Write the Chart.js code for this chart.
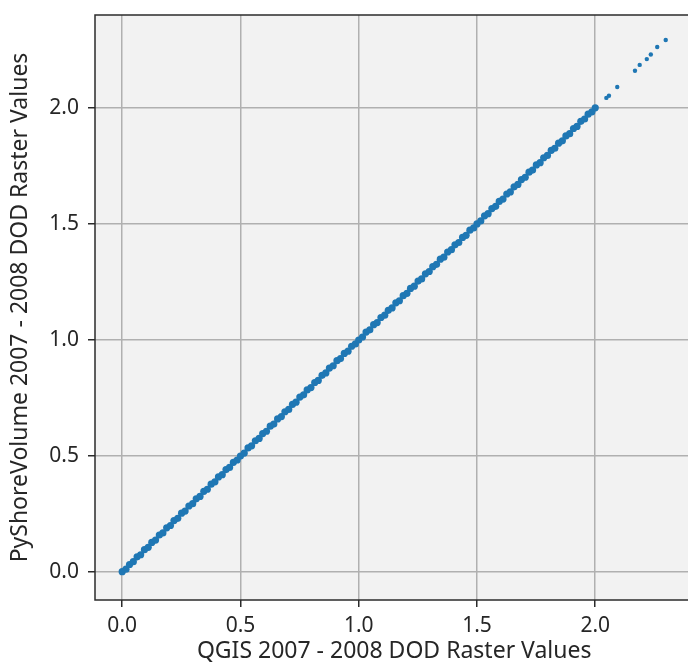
<!DOCTYPE html>
<html>
<head>
<meta charset="utf-8">
<script src="https://cdn.jsdelivr.net/npm/chart.js@4/dist/chart.umd.min.js"></script>
<style>
  html, body { margin: 0; padding: 0; background: #ffffff; overflow: hidden; }
  #wrap { position: relative; width: 697px; height: 667px; }
</style>
</head>
<body>
<div id="wrap"><canvas id="c"></canvas></div>
<script>
const xAxisTitle = 'QGIS 2007 - 2008 DOD Raster Values';
const yAxisTitle = 'PyShoreVolume 2007 - 2008 DOD Raster Values';
const xTickValues = [0.0, 0.5, 1.0, 1.5, 2.0];
const yTickValues = [0.0, 0.5, 1.0, 1.5, 2.0];

// dense part of the cloud (0 .. 2.0)
const qgisValues = [
  0.000,0.016,0.031,0.047,0.063,0.078,0.094,0.110,0.125,0.141,
  0.157,0.172,0.188,0.204,0.219,0.235,0.251,0.266,0.282,0.298,
  0.313,0.329,0.345,0.360,0.376,0.392,0.407,0.423,0.439,0.454,
  0.470,0.486,0.500,0.516,0.532,0.547,0.563,0.579,0.594,0.610,
  0.626,0.641,0.657,0.673,0.688,0.704,0.720,0.735,0.751,0.767,
  0.782,0.798,0.814,0.829,0.845,0.861,0.876,0.892,0.908,0.923,
  0.939,0.955,0.970,0.986,1.000,1.016,1.031,1.047,1.063,1.078,
  1.094,1.110,1.125,1.141,1.157,1.172,1.188,1.204,1.219,1.235,
  1.251,1.266,1.282,1.298,1.313,1.329,1.345,1.360,1.376,1.392,
  1.407,1.423,1.439,1.454,1.470,1.486,1.500,1.516,1.532,1.547,
  1.563,1.579,1.594,1.610,1.626,1.641,1.657,1.673,1.688,1.704,
  1.720,1.735,1.751,1.767,1.782,1.798,1.814,1.829,1.845,1.861,
  1.876,1.892,1.908,1.923,1.939,1.955,1.970,1.986,2.000
];
const pyshoreValues = [
  0.002,0.013,0.033,0.045,0.066,0.075,0.097,0.107,0.128,0.138,
  0.160,0.169,0.191,0.201,0.222,0.232,0.254,0.263,0.285,0.295,
  0.316,0.326,0.348,0.357,0.379,0.389,0.410,0.420,0.442,0.451,
  0.473,0.483,0.500,0.513,0.535,0.544,0.566,0.576,0.597,0.607,
  0.629,0.638,0.660,0.670,0.691,0.701,0.723,0.732,0.754,0.764,
  0.785,0.795,0.817,0.826,0.848,0.858,0.879,0.889,0.911,0.920,
  0.942,0.952,0.973,0.983,1.000,1.013,1.034,1.044,1.066,1.075,
  1.097,1.107,1.128,1.138,1.160,1.169,1.191,1.201,1.222,1.232,
  1.254,1.263,1.285,1.295,1.316,1.326,1.348,1.357,1.379,1.389,
  1.410,1.420,1.442,1.451,1.473,1.483,1.500,1.513,1.535,1.544,
  1.566,1.576,1.597,1.607,1.629,1.638,1.660,1.670,1.691,1.701,
  1.723,1.732,1.754,1.764,1.785,1.795,1.817,1.826,1.848,1.858,
  1.879,1.889,1.911,1.920,1.942,1.952,1.973,1.983,2.000
];
// sparse tail above 2.0
const qgisTail =    [2.047, 2.058, 2.093, 2.168, 2.188, 2.218, 2.235, 2.262, 2.298];
const pyshoreTail = [2.043, 2.052, 2.090, 2.160, 2.185, 2.210, 2.230, 2.262, 2.292];

function toPoints(xs, ys) {
  const n = Math.min(xs.length, ys.length), out = [];
  for (let i = 0; i < n; i++) out.push({x: xs[i], y: ys[i]});
  return out;
}

const FONT = "'Noto Sans', 'Open Sans', sans-serif";
const TEXT = '#262626';
const BLUE = '#1f77b4';

const frame = {
  id: 'frame',
  beforeDraw(chart) {
    const {ctx, chartArea: a} = chart;
    ctx.save();
    ctx.fillStyle = '#f2f2f2';
    ctx.fillRect(a.left, a.top, a.right - a.left, a.bottom - a.top);
    ctx.restore();
  },
  afterDraw(chart) {
    const {ctx, chartArea: a} = chart;
    ctx.save();
    ctx.strokeStyle = '#2b2b2b';
    ctx.lineWidth = 1.5;
    ctx.strokeRect(a.left, a.top, a.right - a.left, a.bottom - a.top);
    ctx.restore();
  }
};

new Chart(document.getElementById('c'), {
  type: 'scatter',
  data: {
    datasets: [{
      data: toPoints(qgisValues, pyshoreValues),
      backgroundColor: BLUE, borderColor: BLUE, borderWidth: 0,
      pointRadius: 3.6, pointHoverRadius: 3.6
    }, {
      data: toPoints(qgisTail, pyshoreTail),
      backgroundColor: BLUE, borderColor: BLUE, borderWidth: 0,
      pointRadius: 2.2, pointHoverRadius: 2.2
    }]
  },
  options: {
    responsive: true,
    maintainAspectRatio: false,
    animation: false,
    layout: { padding: { top: 15, right: 0, bottom: 0, left: 0 } },
    plugins: { legend: { display: false }, tooltip: { enabled: false } },
    scales: {
      x: {
        type: 'linear',
        min: -0.115, max: 2.415,
        afterBuildTicks(s) { s.ticks = xTickValues.map(v => ({value: v})); },
        afterFit(s) { s.height = 67; s.paddingLeft = 0; s.paddingRight = 0; },
        border: { display: false },
        grid: { color: '#b0b0b0', lineWidth: 1.5, tickColor: '#2b2b2b', tickWidth: 1.5, tickLength: 7 },
        ticks: { color: TEXT, font: { family: FONT, size: 21 }, padding: 6, maxRotation: 0,
                 callback: v => Number(v).toFixed(1) },
        title: { display: true, text: xAxisTitle, color: TEXT, font: { family: FONT, size: 23 },
                 padding: { top: 0, bottom: 2 } }
      },
      y: {
        type: 'linear',
        min: -0.12, max: 2.40,
        afterBuildTicks(s) { s.ticks = yTickValues.map(v => ({value: v})); },
        afterFit(s) { s.width = 95; s.paddingTop = 0; s.paddingBottom = 0; },
        border: { display: false },
        grid: { color: '#b0b0b0', lineWidth: 1.5, tickColor: '#2b2b2b', tickWidth: 1.5, tickLength: 7 },
        ticks: { color: TEXT, font: { family: FONT, size: 21 }, padding: 9,
                 callback: v => Number(v).toFixed(1) },
        title: { display: true, text: yAxisTitle, color: TEXT, font: { family: FONT, size: 23 },
                 padding: { top: 7, bottom: 0 } }
      }
    }
  },
  plugins: [frame]
});
</script>
</body>
</html>
